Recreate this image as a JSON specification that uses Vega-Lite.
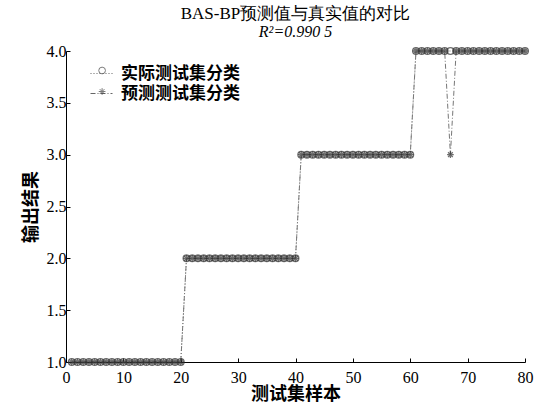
{
  "$schema": "https://vega.github.io/schema/vega-lite/v6.json",
  "autosize": "none",
  "width": 459,
  "height": 311,
  "padding": {"left": 66, "top": 51, "right": 10, "bottom": 47},
  "background": "white",
  "config": {"view": {"stroke": null}},
  "title": {
    "text": "BAS-BP预测值与真实值的对比",
    "subtitle": "R²=0.990 5",
    "font": "Liberation Serif",
    "fontSize": 17,
    "fontWeight": "normal",
    "subtitleFont": "Liberation Serif",
    "subtitleFontSize": 16,
    "subtitleFontStyle": "italic",
    "subtitleColor": "#000",
    "color": "#000",
    "anchor": "middle",
    "offset": 2,
    "subtitlePadding": 1
  },
  "data": {
    "values": [
      {"x":1,"a":1,"p":1},{"x":2,"a":1,"p":1},{"x":3,"a":1,"p":1},{"x":4,"a":1,"p":1},{"x":5,"a":1,"p":1},
      {"x":6,"a":1,"p":1},{"x":7,"a":1,"p":1},{"x":8,"a":1,"p":1},{"x":9,"a":1,"p":1},{"x":10,"a":1,"p":1},
      {"x":11,"a":1,"p":1},{"x":12,"a":1,"p":1},{"x":13,"a":1,"p":1},{"x":14,"a":1,"p":1},{"x":15,"a":1,"p":1},
      {"x":16,"a":1,"p":1},{"x":17,"a":1,"p":1},{"x":18,"a":1,"p":1},{"x":19,"a":1,"p":1},{"x":20,"a":1,"p":1},
      {"x":21,"a":2,"p":2},{"x":22,"a":2,"p":2},{"x":23,"a":2,"p":2},{"x":24,"a":2,"p":2},{"x":25,"a":2,"p":2},
      {"x":26,"a":2,"p":2},{"x":27,"a":2,"p":2},{"x":28,"a":2,"p":2},{"x":29,"a":2,"p":2},{"x":30,"a":2,"p":2},
      {"x":31,"a":2,"p":2},{"x":32,"a":2,"p":2},{"x":33,"a":2,"p":2},{"x":34,"a":2,"p":2},{"x":35,"a":2,"p":2},
      {"x":36,"a":2,"p":2},{"x":37,"a":2,"p":2},{"x":38,"a":2,"p":2},{"x":39,"a":2,"p":2},{"x":40,"a":2,"p":2},
      {"x":41,"a":3,"p":3},{"x":42,"a":3,"p":3},{"x":43,"a":3,"p":3},{"x":44,"a":3,"p":3},{"x":45,"a":3,"p":3},
      {"x":46,"a":3,"p":3},{"x":47,"a":3,"p":3},{"x":48,"a":3,"p":3},{"x":49,"a":3,"p":3},{"x":50,"a":3,"p":3},
      {"x":51,"a":3,"p":3},{"x":52,"a":3,"p":3},{"x":53,"a":3,"p":3},{"x":54,"a":3,"p":3},{"x":55,"a":3,"p":3},
      {"x":56,"a":3,"p":3},{"x":57,"a":3,"p":3},{"x":58,"a":3,"p":3},{"x":59,"a":3,"p":3},{"x":60,"a":3,"p":3},
      {"x":61,"a":4,"p":4},{"x":62,"a":4,"p":4},{"x":63,"a":4,"p":4},{"x":64,"a":4,"p":4},{"x":65,"a":4,"p":4},
      {"x":66,"a":4,"p":4},{"x":67,"a":4,"p":3},{"x":68,"a":4,"p":4},{"x":69,"a":4,"p":4},{"x":70,"a":4,"p":4},
      {"x":71,"a":4,"p":4},{"x":72,"a":4,"p":4},{"x":73,"a":4,"p":4},{"x":74,"a":4,"p":4},{"x":75,"a":4,"p":4},
      {"x":76,"a":4,"p":4},{"x":77,"a":4,"p":4},{"x":78,"a":4,"p":4},{"x":79,"a":4,"p":4},{"x":80,"a":4,"p":4}
    ]
  },
  "transform": [
    {"fold": ["a", "p"], "as": ["key", "y"]},
    {"lookup": "key", "from": {"data": {"values": [{"key": "a", "series": "实际测试集分类", "line": "实际测试集分类 "}, {"key": "p", "series": "预测测试集分类", "line": "预测测试集分类 "}]}, "key": "key", "fields": ["series", "line"]}}
  ],
  "encoding": {
    "x": {
      "field": "x", "type": "quantitative",
      "scale": {"domain": [0, 80], "nice": false, "zero": false},
      "axis": {
        "values": [0, 10, 20, 30, 40, 50, 60, 70, 80],
        "title": "测试集样本",
        "titleFont": "Noto Sans CJK SC", "titleFontSize": 18, "titleFontWeight": "bold", "titleColor": "#000",
        "titlePadding": 0,
        "labelFont": "Liberation Serif", "labelFontSize": 16, "labelColor": "#000", "labelPadding": 11,
        "grid": false, "domainColor": "#000", "tickColor": "#000", "tickSize": -4, "labelFlush": false
      }
    },
    "y": {
      "field": "y", "type": "quantitative",
      "scale": {"domain": [1, 4], "nice": false, "zero": false},
      "axis": {
        "values": [1, 1.5, 2, 2.5, 3, 3.5, 4],
        "format": ".1f",
        "title": "输出结果",
        "titleFont": "Noto Sans CJK SC", "titleFontSize": 18, "titleFontWeight": "bold", "titleColor": "#000",
        "titlePadding": 6,
        "labelFont": "Liberation Serif", "labelFontSize": 16, "labelColor": "#000", "labelPadding": 4,
        "grid": false, "domainColor": "#000", "tickColor": "#000", "tickSize": -4, "labelFlush": false
      }
    }
  },
  "layer": [
    {
      "mark": {"type": "line", "color": "#777", "strokeWidth": 1},
      "encoding": {
        "detail": {"field": "line"},
        "strokeDash": {
          "field": "line", "type": "nominal",
          "scale": {"domain": ["实际测试集分类 ", "预测测试集分类 "], "range": [[1, 2], [5, 2, 1, 2]]},
          "legend": {
            "title": null,
            "orient": "none",
            "legendX": 24,
            "legendY": 11,
            "symbolType": "stroke",
            "symbolSize": 484,
            "symbolStrokeColor": "#666",
            "symbolStrokeWidth": 1,
            "symbolOffset": 0,
            "labelFont": "Noto Sans CJK SC",
            "labelFontSize": 17,
            "labelFontWeight": "bold",
            "labelColor": "#000",
            "labelOffset": 8,
            "rowPadding": 0
          }
        }
      }
    },
    {
      "mark": {"type": "point", "filled": false, "strokeWidth": 1.3, "color": "#333"},
      "encoding": {
        "shape": {
          "field": "series", "type": "nominal",
          "scale": {"domain": ["实际测试集分类", "预测测试集分类"], "range": ["circle", "M-1,0L1,0M0,-1L0,1M-0.7,-0.7L0.7,0.7M-0.7,0.7L0.7,-0.7"]},
          "legend": {
            "title": null,
            "orient": "none",
            "legendX": 27.6,
            "legendY": 11,
            "labelExpr": "''",
            "labelFontSize": 17,
            "rowPadding": 3,
            "symbolSize": 45,
            "symbolStrokeColor": "#444",
            "symbolFillColor": "white",
            "symbolStrokeWidth": 1,
            "symbolOffset": 0
          }
        },
        "size": {"value": 45}
      }
    }
  ]
}
